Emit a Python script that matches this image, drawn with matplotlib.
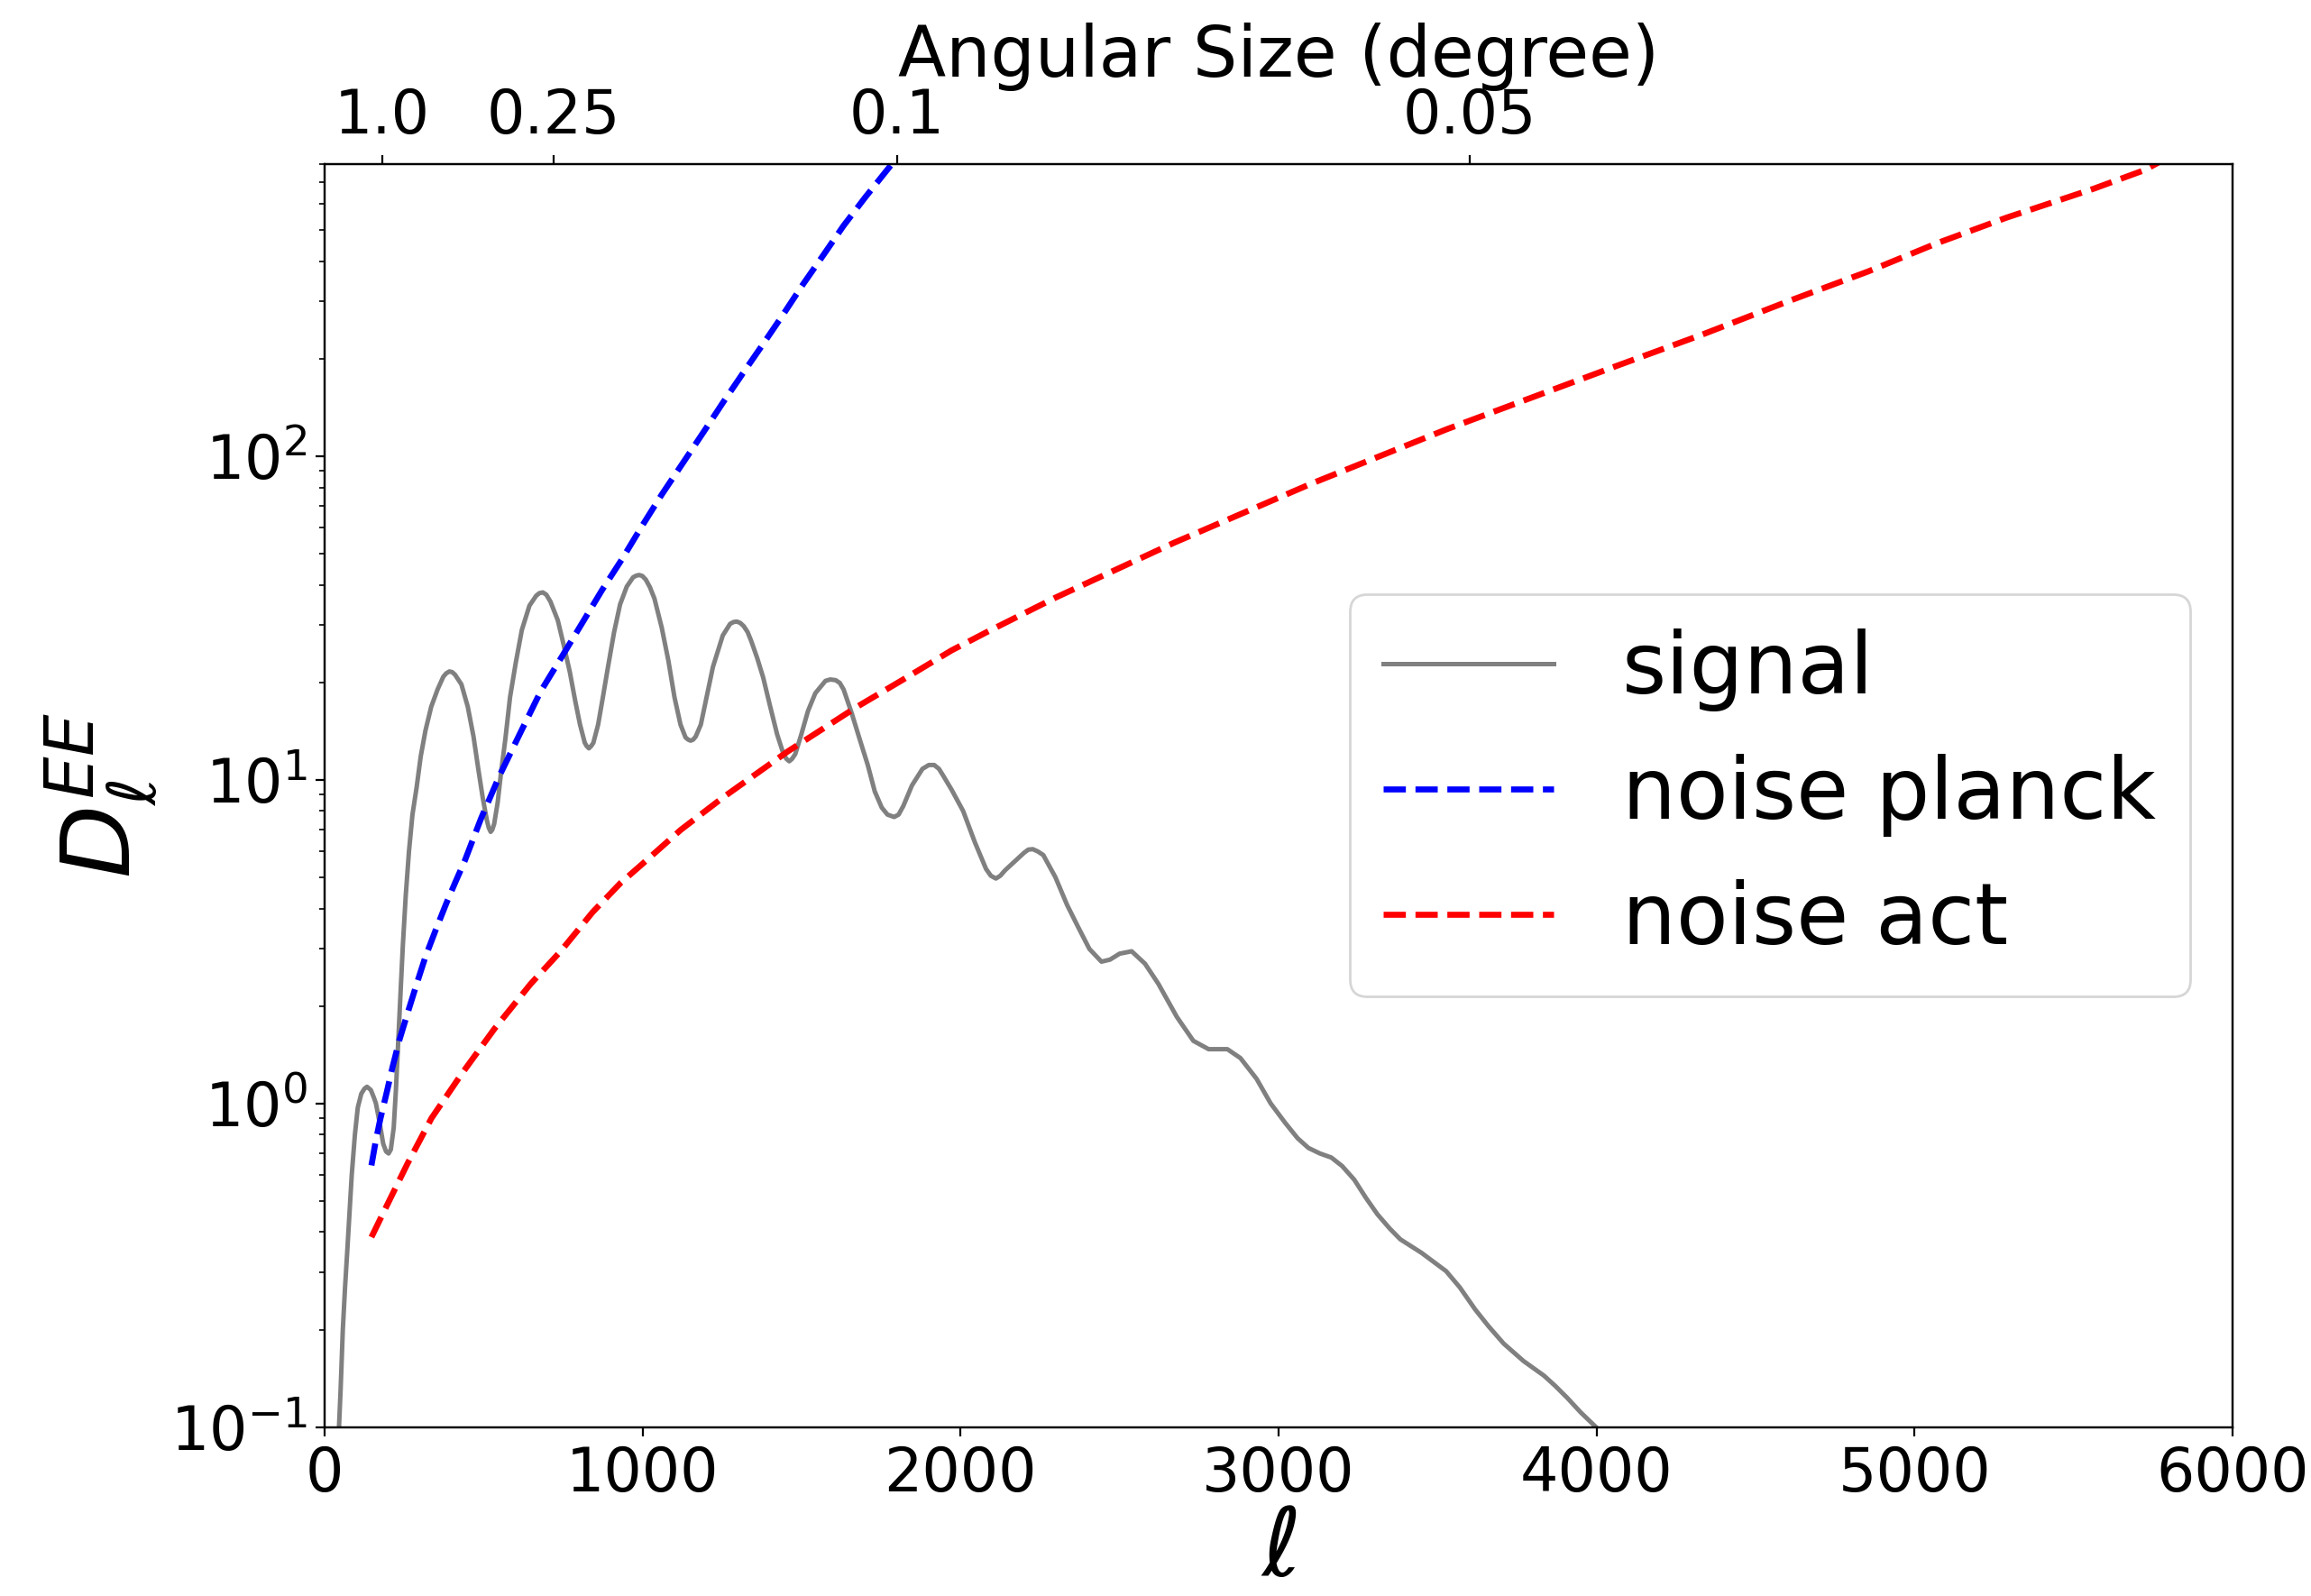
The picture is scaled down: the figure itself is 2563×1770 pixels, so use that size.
import matplotlib

matplotlib.use("Agg")
import matplotlib.pyplot as plt

# EE signal spectrum
signal_ell = [44, 50, 57, 64, 71, 78, 85, 95, 104, 115, 125, 133, 145, 155, 161,
              172, 184, 193, 201, 208, 217, 224, 232, 240, 246, 255, 265, 276, 289,
              302, 317, 335, 355, 373, 382, 392, 401, 410, 430, 450, 468, 483, 497,
              510, 516, 522, 527, 533, 544, 555, 568, 583, 601, 620, 644, 665, 675,
              686, 697, 710, 733, 752, 771, 788, 803, 818, 824, 831, 838, 845, 860,
              875, 891, 910, 929, 950, 970, 980, 989, 999, 1010, 1023, 1037, 1060,
              1081, 1100, 1119, 1135, 1143, 1151, 1159, 1167, 1183, 1200, 1221, 1252,
              1275, 1286, 1296, 1307, 1318, 1330, 1341, 1360, 1379, 1400, 1423, 1443,
              1452, 1461, 1470, 1480, 1499, 1520, 1543, 1575, 1590, 1607, 1620, 1632,
              1657, 1683, 1708, 1730, 1752, 1770, 1791, 1805, 1820, 1847, 1880, 1900,
              1917, 1932, 1945, 1972, 2008, 2045, 2080, 2095, 2111, 2125, 2140, 2171,
              2200, 2213, 2227, 2243, 2260, 2298, 2335, 2370, 2405, 2443, 2470, 2500,
              2538, 2580, 2622, 2680, 2732, 2780, 2839, 2880, 2931, 2975, 3021, 3060,
              3094, 3130, 3166, 3200, 3238, 3275, 3311, 3350, 3383, 3450, 3527, 3570,
              3618, 3660, 3708, 3770, 3835, 3870, 3908, 3950, 3998, 4010]
signal_dl = [0.095, 0.13, 0.20, 0.27, 0.35, 0.46, 0.60, 0.80, 0.97, 1.07, 1.11, 1.125,
             1.10, 1.04, 1.00, 0.88, 0.75, 0.71, 0.70, 0.72, 0.84, 1.1, 1.62, 2.35, 3.1,
             4.4, 6.0, 7.8, 9.45, 11.8, 14.2, 16.8, 19.0, 20.8, 21.3, 21.6, 21.5, 21.1,
             19.7, 16.8, 13.6, 10.8, 8.8, 7.5, 7.1, 6.9, 7.0, 7.3, 8.5, 10.6, 13.3, 18.0,
             23.0, 29.0, 34.5, 37.0, 37.7, 37.9, 37.3, 35.5, 31.1, 26.0, 21.5, 17.5,
             14.8, 13.0, 12.7, 12.5, 12.7, 13.0, 14.8, 18.0, 22.3, 28.5, 34.8, 39.5,
             42.2, 42.7, 42.9, 42.6, 41.5, 39.3, 36.3, 29.5, 23.3, 18.0, 14.8, 13.5,
             13.3, 13.2, 13.3, 13.6, 14.8, 17.8, 22.3, 27.9, 30.3, 30.7, 30.8, 30.5,
             29.8, 28.6, 26.9, 23.8, 20.7, 17.0, 13.8, 12.0, 11.6, 11.4, 11.6, 12.0,
             13.8, 16.3, 18.5, 20.2, 20.4, 20.3, 19.9, 19.0, 16.1, 13.3, 11.1, 9.2, 8.2,
             7.8, 7.67, 7.8, 8.3, 9.6, 10.8, 11.1, 11.1, 10.8, 10.3, 9.3, 8.0, 6.4, 5.3,
             5.05, 4.95, 5.05, 5.25, 5.6, 5.95, 6.08, 6.1, 6.0, 5.85, 5.0, 4.1, 3.5, 3.0,
             2.74, 2.78, 2.9, 2.95, 2.7, 2.34, 1.85, 1.56, 1.47, 1.47, 1.38, 1.19, 1.0,
             0.87, 0.78, 0.728, 0.70, 0.68, 0.64, 0.581, 0.51, 0.454, 0.41, 0.38, 0.345,
             0.303, 0.27, 0.231, 0.205, 0.181, 0.16, 0.144, 0.134, 0.123, 0.111, 0.100,
             0.097]

# Planck noise curve
planck_ell = [147, 160, 175, 195, 213, 235, 260, 290, 317, 350, 383, 410, 440, 492,
              550, 619, 680, 746, 810, 872, 935, 999, 1060, 1126, 1190, 1252, 1315,
              1379, 1440, 1505, 1570, 1632, 1700, 1780, 1810]
planck_dl = [0.643, 0.76, 0.895, 1.08, 1.29, 1.57, 1.89, 2.35, 2.84, 3.45, 4.16, 4.8,
             5.6, 7.6, 10.3, 14.2, 18.8, 24.0, 30.5, 38.5, 48, 61, 76, 95, 118, 146,
             180, 222, 272, 340, 420, 515, 630, 790, 860]

# ACT noise curve
act_ell = [147, 194, 260, 336, 430, 534, 648, 742, 843, 931, 1000, 1120, 1252, 1455,
           1670, 1816, 1972, 2083, 2298, 2672, 3101, 3529, 4064, 4331, 4600, 4855,
           5072, 5289, 5564, 5724, 5770]
act_dl = [0.386, 0.48, 0.65, 0.90, 1.23, 1.70, 2.34, 2.95, 3.9, 4.8, 5.5, 7.0, 8.8,
          12.2, 16.7, 20.3, 25.1, 28.6, 36.5, 54, 82, 121, 190, 237, 300, 372, 455,
          545, 670, 765, 810]

# top axis: angular size in degrees, ell ~ 180 / theta
angular_ticks = [1.0, 0.25, 0.1, 0.05]
angular_labels = ["1.0", "0.25", "0.1", "0.05"]

fig = plt.figure(figsize=(12.815, 8.85), dpi=200)
ax = fig.add_axes([0.1405, 0.1059, 0.8255, 0.7915])

ax.plot(signal_ell, signal_dl, color="gray", linewidth=1.8, label="signal")
ax.plot(planck_ell, planck_dl, color="blue", linestyle="--", linewidth=2.4,
        label="noise planck")
ax.plot(act_ell, act_dl, color="red", linestyle="--", linewidth=2.4,
        label="noise act")

ax.set_yscale("log")
ax.set_xlim(0, 6000)
ax.set_ylim(0.1, 800)
ax.set_xticks([0, 1000, 2000, 3000, 4000, 5000, 6000])
ax.tick_params(axis="both", which="major", labelsize=24)
ax.set_xlabel(r"$\ell$", fontsize=38, labelpad=0)
ax.set_ylabel(r"$D_\ell^{EE}$", fontsize=38)
ax.legend(loc="center right", fontsize=34)

# Secondary axis on top
ax2 = ax.twiny()
ax2.set_xlim(ax.get_xlim())
ax2.set_xticks([180 / t for t in angular_ticks])
ax2.set_xticklabels(angular_labels)
ax2.tick_params(axis="x", labelsize=24)
ax2.set_xlabel("Angular Size (degree)", fontsize=28)

fig.savefig("out.png", dpi=200)
plt.close(fig)
